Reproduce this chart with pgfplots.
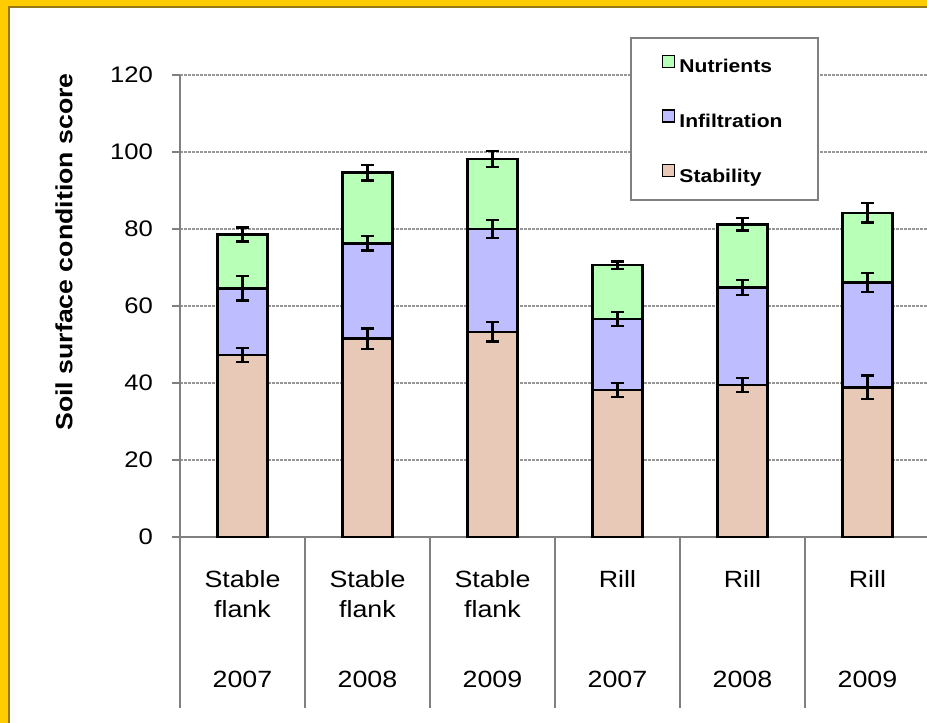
\documentclass[border=0pt]{standalone}
\usepackage{pgfplots}
\pgfplotsset{compat=1.18}
\usepackage{pgfplotstable}
\usepackage{fontspec}
\setmainfont{Liberation Sans}[FakeStretch=1.14]

\definecolor{nutr}{RGB}{184,255,184}
\definecolor{infil}{RGB}{189,189,255}
\definecolor{stab}{RGB}{232,200,182}
\definecolor{frameyellow}{RGB}{255,204,0}
\definecolor{frameedge}{RGB}{150,120,20}
\definecolor{axisgray}{RGB}{128,128,128}
\definecolor{gridgray}{RGB}{150,150,150}

% component scores (stacked) with their standard errors
\pgfplotstableread{
x s    se  i    ie  n    ne
0 47.3 1.8 17.3 3.2 14.0 1.8
1 51.5 2.7 24.8 1.9 18.3 2.0
2 53.3 2.5 26.7 2.4 18.2 2.1
3 38.2 1.8 18.4 1.8 14.0 1.0
4 39.5 1.8 25.3 2.0 16.4 1.6
5 38.9 3.1 27.2 2.5 18.1 2.5
}\scoretable

\pgfplotsset{
  sqlegend/.style={legend image code/.code={
    \draw[##1, draw=black, line width=1.3pt] (0pt,0.5pt) rectangle (12pt,12.5pt);}},
  errstyle/.style={
    error bars/.cd, y dir=both, y explicit,
    error bar style={black, line width=2.4pt},
    error mark options={rotate=90, black, mark size=6.5pt, line width=2.4pt}},
}

\begin{document}
\begin{tikzpicture}
\useasboundingbox (0pt,0pt) rectangle (927pt,-723pt);
\clip (0pt,0pt) rectangle (927pt,-723pt);
% frame
\fill[frameyellow] (0pt,0pt) rectangle (927pt,-723pt);
\fill[white] (8.5pt,-6.5pt) rectangle (927pt,-723pt);
\draw[frameedge, line width=2pt] (8.5pt,-723pt) -- (8.5pt,-6.5pt) -- (927pt,-6.5pt);

\begin{axis}[
  at={(180pt,-537pt)}, anchor=south west,
  scale only axis, width=747pt, height=462pt,
  xmin=-0.5, xmax=5.476, ymin=0, ymax=120,
  axis lines*=left,
  axis line style={axisgray, line width=1.6pt},
  ytick={0,20,...,120},
  xtick=\empty,
  tick align=outside,
  major tick length=8pt,
  ytick style={axisgray, line width=1.6pt},
  ymajorgrids,
  major grid style={gridgray, line width=1.3pt, dash pattern=on 2.5pt off 1.5pt},
  /pgf/number format/assume math mode=true,
  yticklabel style={font=\fontsize{22.5}{24}\selectfont, inner sep=0pt, anchor=east, xshift=-19pt},
  ybar stacked, bar width=50pt,
  clip=false,
  reverse legend,
  legend cell align=left,
  legend style={at={(0.6452,1.0442)}, anchor=north west, draw=none, fill=none,
    inner sep=0pt, row sep=32.5pt, column sep=4pt,
    font=\bfseries\fontsize{18.5}{20}\selectfont,
    nodes={inner sep=0pt, text height=14pt, text depth=4pt}},
]
% legend frame, behind the bars and over the grid
\draw[axisgray, line width=2pt, fill=white]
  (rel axis cs:0.6037,1.0801) rectangle (rel axis cs:0.8541,0.7294);

\addplot[fill=stab, draw=black, line width=2.6pt, sqlegend, errstyle]
  table[x=x, y=s, y error=se] {\scoretable};
\addlegendentry{Stability}
\addplot[fill=infil, draw=black, line width=2.6pt, sqlegend, errstyle]
  table[x=x, y=i, y error=ie] {\scoretable};
\addlegendentry{Infiltration}
\addplot[fill=nutr, draw=black, line width=2.6pt, sqlegend, errstyle]
  table[x=x, y=n, y error=ne] {\scoretable};
\addlegendentry{Nutrients}

% category separators below the axis
\pgfplotsinvokeforeach{-0.5,0.5,1.5,2.5,3.5,4.5}{
  \draw[axisgray, line width=1.6pt] (axis cs:#1,0) -- ++(0pt,-171pt);
}
% two-level category labels
\pgfplotsinvokeforeach{0,1,2}{
  \node[anchor=base, font=\fontsize{23.5}{25}\selectfont] at ([yshift=-50pt]axis cs:#1,0) {Stable};
  \node[anchor=base, font=\fontsize{23.5}{25}\selectfont] at ([yshift=-80pt]axis cs:#1,0) {flank};
}
\pgfplotsinvokeforeach{3,4,5}{
  \node[anchor=base, font=\fontsize{23.5}{25}\selectfont] at ([yshift=-50pt]axis cs:#1,0) {Rill};
}
\node[anchor=base, font=\fontsize{23.5}{25}\selectfont] at ([yshift=-150pt]axis cs:0,0) {2007};
\node[anchor=base, font=\fontsize{23.5}{25}\selectfont] at ([yshift=-150pt]axis cs:1,0) {2008};
\node[anchor=base, font=\fontsize{23.5}{25}\selectfont] at ([yshift=-150pt]axis cs:2,0) {2009};
\node[anchor=base, font=\fontsize{23.5}{25}\selectfont] at ([yshift=-150pt]axis cs:3,0) {2007};
\node[anchor=base, font=\fontsize{23.5}{25}\selectfont] at ([yshift=-150pt]axis cs:4,0) {2008};
\node[anchor=base, font=\fontsize{23.5}{25}\selectfont] at ([yshift=-150pt]axis cs:5,0) {2009};
\end{axis}

\node[rotate=90, font=\bfseries\fontsize{23.4}{25}\selectfont] at (64pt,-252pt) {Soil surface condition score};
\end{tikzpicture}
\end{document}
